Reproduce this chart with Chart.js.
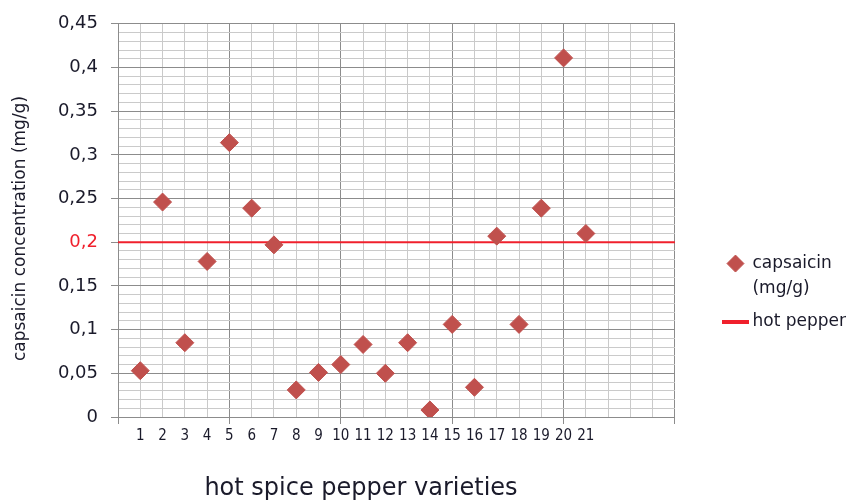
<!DOCTYPE html>
<html>
<head>
<meta charset="utf-8">
<title>capsaicin</title>
<script src="https://cdn.jsdelivr.net/npm/chart.js@4.4.1/dist/chart.umd.min.js"></script>
<style>
  html, body { margin: 0; padding: 0; background: #fff; }
  #wrap { width: 856px; height: 501px; position: relative; }
</style>
</head>
<body>
<div id="wrap"><canvas id="chart"></canvas></div>
<script>
// pepper varieties (x-axis labels) and measured capsaicin (mg/g)
const varieties = ['1', '2', '3', '4', '5', '6', '7', '8', '9', '10', '11',
                   '12', '13', '14', '15', '16', '17', '18', '19', '20', '21'];
const capsaicin = [0.053, 0.246, 0.085, 0.178, 0.314, 0.239, 0.197, 0.031, 0.051, 0.060, 0.083,
                   0.050, 0.085, 0.008, 0.106, 0.034, 0.207, 0.106, 0.239, 0.411, 0.210];
const hotPepperLevel = 0.2;      // threshold for "hot pepper"
const xRange = [0, 25];
const yRange = [0, 0.45];

const xTitle = 'hot spice pepper varieties';
const yTitle = 'capsaicin concentration (mg/g)   ';
const seriesLabel = ['capsaicin', '(mg/g)'];
const thresholdLabel = 'hot pepper';

const FONT = '"DejaVu Sans", "Liberation Sans", Arial, sans-serif';
const NARROW = '"Liberation Sans Narrow", "DejaVu Sans Condensed", "Liberation Sans", sans-serif';
const MARKER = '#c0504d';
const RED = '#f0202c';
const GRID_MAJOR = '#8c8c8c';
const GRID_MINOR = '#cacaca';
const TEXT = '#1a1a2a';

const hundredths = v => Math.round(v * 100);
const isMajorY = v => hundredths(v) % 5 === 0;
const isMajorX = v => Math.round(v) % 5 === 0;

// short thick red stroke used as the legend swatch of the threshold line
const lineSwatch = document.createElement('canvas');
lineSwatch.width = 27;
lineSwatch.height = 4;
lineSwatch.getContext('2d').fillStyle = RED;
lineSwatch.getContext('2d').fillRect(0, 0, 27, 4);

// axis title under the plot, centred on the area left of the legend
const xTitlePlugin = {
  id: 'xTitle',
  afterDraw(chart) {
    const { ctx, legend, chartArea } = chart;
    ctx.save();
    ctx.font = '24px ' + FONT;
    ctx.fillStyle = TEXT;
    ctx.textAlign = 'center';
    ctx.textBaseline = 'alphabetic';
    ctx.fillText(xTitle, (legend.left + 4) / 2, chartArea.bottom + 78);
    ctx.restore();
  }
};

const points = capsaicin.map((v, i) => ({ x: i + 1, y: v }));
const threshold = xRange.map(x => ({ x, y: hotPepperLevel }));

new Chart(document.getElementById('chart'), {
  type: 'scatter',
  data: {
    datasets: [
      {
        label: seriesLabel,
        data: points,
        pointStyle: 'rectRot',
        pointRadius: 9,
        pointHoverRadius: 9,
        backgroundColor: MARKER,
        borderColor: MARKER,
        borderWidth: 1,
        order: 1
      },
      {
        type: 'line',
        label: thresholdLabel,
        data: threshold,
        borderColor: RED,
        backgroundColor: RED,
        borderWidth: 2,
        pointRadius: 0,
        pointStyle: 'line',
        fill: false,
        order: 2
      }
    ]
  },
  options: {
    responsive: true,
    maintainAspectRatio: false,
    animation: false,
    layout: { padding: { top: 17, right: 0, bottom: 0, left: 0 } },
    scales: {
      x: {
        type: 'linear',
        min: xRange[0],
        max: xRange[1],
        afterFit(scale) { scale.height = 84; },
        ticks: {
          stepSize: 1,
          autoSkip: false,
          maxRotation: 0,
          padding: 3,
          color: TEXT,
          font: { family: NARROW, size: 15 },
          callback: v => varieties[v - 1] ?? ''
        },
        grid: {
          color: c => isMajorX(c.tick.value) ? GRID_MAJOR : GRID_MINOR,
          tickColor: c => isMajorX(c.tick.value) ? GRID_MAJOR : 'rgba(0,0,0,0)',
          tickLength: 7
        },
        border: { color: GRID_MAJOR }
      },
      y: {
        min: yRange[0],
        max: yRange[1],
        afterFit(scale) { scale.width = 118; },
        ticks: {
          stepSize: 0.01,
          maxTicksLimit: 100,
          autoSkip: false,
          padding: 13,
          font: { family: FONT, size: 18 },
          color: c => hundredths(c.tick.value) === hundredths(hotPepperLevel) ? RED : TEXT,
          callback: v => isMajorY(v) ? String(hundredths(v) / 100).replace('.', ',') : ''
        },
        grid: {
          color: c => isMajorY(c.tick.value) ? GRID_MAJOR : GRID_MINOR,
          tickColor: c => isMajorY(c.tick.value) ? GRID_MAJOR : 'rgba(0,0,0,0)',
          tickLength: 7
        },
        border: { color: GRID_MAJOR },
        title: {
          display: true,
          text: yTitle,
          color: TEXT,
          font: { family: FONT, size: 17 },
          padding: { top: 10, bottom: 0 }
        }
      },
      // empty right-hand axis: keeps a gap between the plot and the legend
      gap: {
        type: 'linear',
        position: 'right',
        afterFit(scale) { scale.width = 43; },
        grid: { display: false, drawTicks: false },
        ticks: { display: false },
        border: { display: false }
      }
    },
    plugins: {
      tooltip: { enabled: false },
      legend: {
        position: 'right',
        align: 'center',
        title: { display: true, text: '', padding: { top: 53, bottom: 0 } },
        labels: {
          usePointStyle: true,
          boxWidth: 17,
          boxHeight: 12,
          padding: 9,
          color: TEXT,
          font: { family: FONT, size: 17, lineHeight: 1.45 },
          generateLabels(chart) {
            const items = Chart.defaults.plugins.legend.labels.generateLabels(chart);
            items[1].pointStyle = lineSwatch;
            return items;
          }
        }
      }
    }
  },
  plugins: [xTitlePlugin]
});
</script>
</body>
</html>
